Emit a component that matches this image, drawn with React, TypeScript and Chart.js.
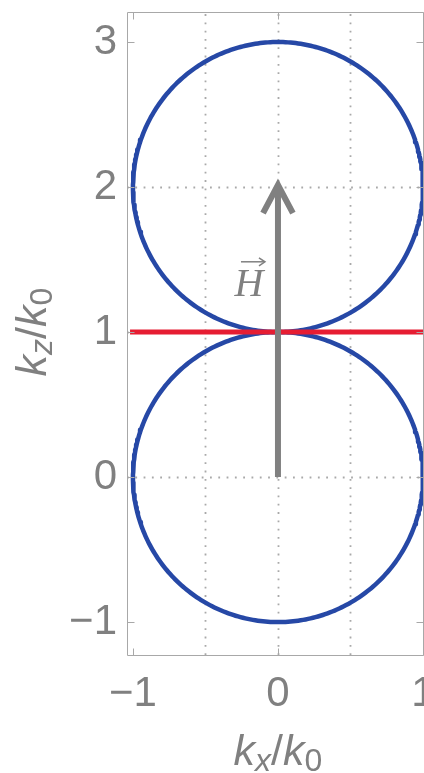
import { useEffect, useRef } from "react";
import { Chart, registerables } from "chart.js";

Chart.register(...registerables);

// Axis ranges and tick positions (units of k0)
const X_RANGE = [-1.041, 1.007];
const Y_RANGE = [-1.227, 3.207];
const X_TICKS = [-1, 0, 1];
const Y_TICKS = [-1, 0, 1, 2, 3];
const X_GRID = [-0.5, 0, 0.5];
const Y_GRID = [0, 1, 2];

// Wave-vector surfaces: two unit circles stacked along kz
const CIRCLE_CENTERS_Z = [0, 2];
const CIRCLE_RADIUS = 1;

// Horizontal line kz = k0
const RED_LINE_X = [-1.02, 1.02];
const RED_LINE_Z = 1;

// Field vector H
const FIELD_X = [0, 0];
const FIELD_Z = [0, 2];
const HEAD_X = [-0.103, 0, 0.103];
const HEAD_Z = [1.82, 2.014, 1.82];

const GRAY = "#808080";
const FRAME = "#a8a8a8";
const BLUE = "#2648a6";
const RED = "#e61d32";
const SANS = "'Liberation Sans', Arial, sans-serif";
const SERIF = "'Liberation Serif', 'Times New Roman', serif";

const fmt = (v: number) => (v < 0 ? "\u2212" + Math.abs(v) : String(v));

function circlePoints(cz: number, r: number) {
  const pts: { x: number; y: number }[] = [];
  for (let a = 0; a <= 360; a += 1) {
    const t = (a * Math.PI) / 180;
    pts.push({ x: r * Math.cos(t), y: cz + r * Math.sin(t) });
  }
  return pts;
}

type Part = { t: string; italic?: boolean; size: number; dy?: number };

function drawParts(ctx: CanvasRenderingContext2D, parts: Part[], cx: number, baseY: number) {
  const widths = parts.map((p) => {
    ctx.font = `${p.italic ? "italic " : ""}${p.size}px ${SANS}`;
    return ctx.measureText(p.t).width;
  });
  const total = widths.reduce((a, b) => a + b, 0);
  let x = cx - total / 2;
  parts.forEach((p, i) => {
    ctx.font = `${p.italic ? "italic " : ""}${p.size}px ${SANS}`;
    ctx.fillText(p.t, x, baseY + (p.dy || 0));
    x += widths[i];
  });
}

const framePlugin = {
  id: "frameDecor",
  beforeDatasetsDraw(chart: any) {
    const { ctx, chartArea: a, scales } = chart;
    const xs = scales.x;
    const ys = scales.y;
    ctx.save();
    ctx.strokeStyle = "#a9a9a9";
    ctx.lineWidth = 1.8;
    ctx.setLineDash([1.8, 6.5]);
    X_GRID.forEach((v) => {
      const px = Math.round(xs.getPixelForValue(v)) + 0.5;
      ctx.beginPath();
      ctx.moveTo(px, a.bottom);
      ctx.lineTo(px, a.top);
      ctx.stroke();
    });
    Y_GRID.forEach((v) => {
      const py = Math.round(ys.getPixelForValue(v)) + 0.5;
      ctx.beginPath();
      ctx.moveTo(a.left, py);
      ctx.lineTo(a.right, py);
      ctx.stroke();
    });
    ctx.restore();
  },
  afterDatasetsDraw(chart: any) {
    const { ctx, chartArea: a, scales } = chart;
    const xs = scales.x;
    const ys = scales.y;
    ctx.save();
    // frame
    ctx.strokeStyle = FRAME;
    ctx.lineWidth = 1;
    const L = Math.round(a.left) + 0.5;
    const R = Math.round(a.right) - 0.5;
    const T = Math.round(a.top) + 0.5;
    const B = Math.round(a.bottom) + 0.5;
    ctx.beginPath();
    ctx.moveTo(L, T);
    ctx.lineTo(R, T);
    ctx.lineTo(R, B);
    ctx.lineTo(L, B);
    ctx.closePath();
    ctx.stroke();
    // inward ticks on all sides
    const len = 7;
    X_TICKS.forEach((v) => {
      const px = Math.round(xs.getPixelForValue(v)) + 0.5;
      ctx.beginPath();
      ctx.moveTo(px, B);
      ctx.lineTo(px, B - len);
      ctx.moveTo(px, T);
      ctx.lineTo(px, T + len);
      ctx.stroke();
    });
    Y_TICKS.forEach((v) => {
      const py = Math.round(ys.getPixelForValue(v)) + 0.5;
      ctx.beginPath();
      ctx.moveTo(L, py);
      ctx.lineTo(L + len, py);
      ctx.moveTo(R, py);
      ctx.lineTo(R - len, py);
      ctx.stroke();
    });

    // vector label H with arrow accent
    ctx.fillStyle = GRAY;
    ctx.strokeStyle = GRAY;
    ctx.font = `italic 40px ${SERIF}`;
    ctx.textAlign = "center";
    ctx.textBaseline = "alphabetic";
    const hx = xs.getPixelForValue(-0.2);
    const hy = ys.getPixelForValue(1.25);
    ctx.fillText("H", hx, hy);
    ctx.lineWidth = 1.5;
    ctx.beginPath();
    ctx.moveTo(hx - 8, hy - 34);
    ctx.lineTo(hx + 15, hy - 34);
    ctx.stroke();
    ctx.beginPath();
    ctx.moveTo(hx + 10, hy - 38);
    ctx.lineTo(hx + 16, hy - 34);
    ctx.lineTo(hx + 10, hy - 30);
    ctx.stroke();
    ctx.restore();
  },
  afterDraw(chart: any) {
    const { ctx, scales } = chart;
    ctx.save();
    ctx.fillStyle = GRAY;
    ctx.textBaseline = "alphabetic";
    ctx.textAlign = "left";
    // x axis title
    drawParts(
      ctx,
      [
        { t: "k", italic: true, size: 43 },
        { t: "x", italic: true, size: 32, dy: 6 },
        { t: "/", size: 43 },
        { t: "k", italic: true, size: 43 },
        { t: "0", size: 32, dy: 6 },
      ],
      scales.x.getPixelForValue(0),
      765
    );
    // y axis title (rotated)
    ctx.translate(46, scales.y.getPixelForValue(1));
    ctx.rotate(-Math.PI / 2);
    drawParts(
      ctx,
      [
        { t: "k", italic: true, size: 43 },
        { t: "z", italic: true, size: 32, dy: 6 },
        { t: "/", size: 43 },
        { t: "k", italic: true, size: 43 },
        { t: "0", size: 32, dy: 6 },
      ],
      0,
      0
    );
    ctx.restore();
  },
};

export default function App() {
  const ref = useRef<HTMLCanvasElement | null>(null);

  useEffect(() => {
    if (!ref.current) return;
    const line = (data: any[], color: string, width: number, extra: any = {}) => ({
      type: "line" as const,
      data,
      borderColor: color,
      borderWidth: width,
      pointRadius: 0,
      showLine: true,
      fill: false,
      tension: 0,
      ...extra,
    });

    const chart = new Chart(ref.current, {
      type: "scatter",
      data: {
        datasets: [
          line(
            HEAD_X.map((x, i) => ({ x, y: HEAD_Z[i] })),
            GRAY,
            6,
            { borderJoinStyle: "miter", borderCapStyle: "butt" }
          ),
          line(
            FIELD_X.map((x, i) => ({ x, y: FIELD_Z[i] })),
            GRAY,
            6
          ),
          line(
            RED_LINE_X.map((x) => ({ x, y: RED_LINE_Z })),
            RED,
            5
          ),
          ...CIRCLE_CENTERS_Z.map((cz) =>
            line(circlePoints(cz, CIRCLE_RADIUS), BLUE, 4.5, { borderJoinStyle: "round" })
          ),
        ],
      },
      options: {
        animation: false,
        responsive: false,
        events: [],
        layout: { autoPadding: false, padding: { top: 12, left: 0, right: 0, bottom: 0 } },
        plugins: { legend: { display: false }, tooltip: { enabled: false } },
        scales: {
          x: {
            type: "linear",
            min: X_RANGE[0],
            max: X_RANGE[1],
            afterBuildTicks: (s: any) => {
              s.ticks = X_TICKS.map((value) => ({ value }));
            },
            afterFit: (s: any) => {
              s.height = 118;
              s.paddingLeft = 0;
              s.paddingRight = 0;
            },
            grid: { display: false, drawTicks: false },
            border: { display: false },
            ticks: {
              callback: (v: any) => fmt(Number(v)),
              color: GRAY,
              font: { family: SANS, size: 42 },
              padding: 14,
              maxRotation: 0,
            },
          },
          y: {
            type: "linear",
            min: Y_RANGE[0],
            max: Y_RANGE[1],
            afterBuildTicks: (s: any) => {
              s.ticks = Y_TICKS.map((value) => ({ value }));
            },
            afterFit: (s: any) => {
              s.width = 127;
              s.paddingTop = 0;
              s.paddingBottom = 0;
            },
            grid: { display: false, drawTicks: false },
            border: { display: false },
            ticks: {
              callback: (v: any) => fmt(Number(v)),
              color: GRAY,
              font: { family: SANS, size: 42 },
              padding: 10,
            },
          },
        },
      },
      plugins: [framePlugin],
    } as any);

    return () => chart.destroy();
  }, []);

  return (
    <div style={{ position: "fixed", left: 0, top: 0, width: 424, height: 773, background: "#fff" }}>
      <canvas ref={ref} width={424} height={773} style={{ display: "block", width: 424, height: 773 }} />
    </div>
  );
}
